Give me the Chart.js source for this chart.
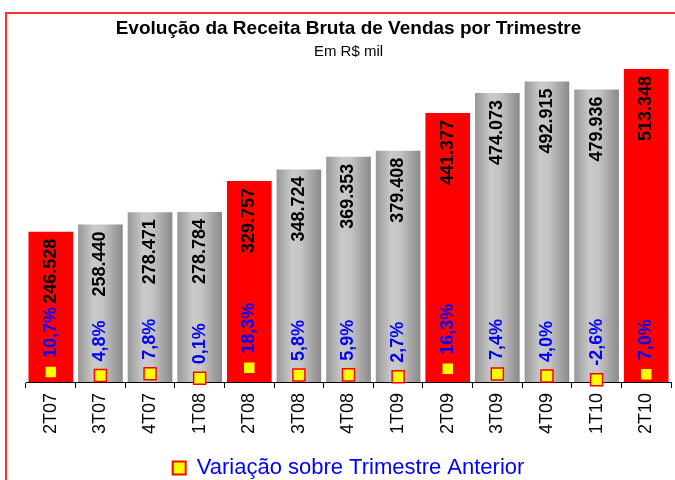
<!DOCTYPE html>
<html>
<head>
<meta charset="utf-8">
<title>Receita Bruta de Vendas</title>
<script src="https://cdn.jsdelivr.net/npm/chart.js@4"></script>
<style>
  html, body { margin: 0; padding: 0; background: #fff; overflow: hidden; }
  #frame {
    position: absolute; left: 5px; top: 12px;
    width: 720px; height: 520px;
    border-left: 2px solid #ff3030; border-top: 2px solid #ff3030;
  }
  #chart { position: absolute; left: 0; top: 0; }
</style>
</head>
<body>
<div id="frame"></div>
<canvas id="chart" width="675" height="480"></canvas>
<script>
// ===============================
// Receita bruta por trimestre
// ===============================

const trimestres = ['2T07', '3T07', '4T07', '1T08', '2T08', '3T08', '4T08',
                    '1T09', '2T09', '3T09', '4T09', '1T10', '2T10'];
const receita = [246528, 258440, 278471, 278784, 329757, 348724, 369353,
                 379408, 441377, 474073, 492915, 479936, 513348];
const variacao = [10.7, 4.8, 7.8, 0.1, 18.3, 5.8, 5.9, 2.7, 16.3, 7.4, 4.0, -2.6, 7.0];

const FONT = "'Liberation Sans', Arial, sans-serif";

// number helpers (pt-BR style)
function fmtMil(v) {
    return String(v).replace(/\B(?=(\d{3})+(?!\d))/g, '.');
}
function fmtPct(v) {
    return v.toFixed(1).replace('.', ',') + '%';
}

// gray bars get a cylinder-like gradient, 2nd quarters are red
function barColor(c) {
    if (trimestres[c.dataIndex].startsWith('2T')) return '#ff0000';
    const chart = c.chart;
    const x = chart.scales && chart.scales.x;
    if (!x || !chart.chartArea) return '#b4b4b4';
    const center = x.getPixelForValue(c.dataIndex);
    const half = (x.width / trimestres.length) * 0.9 / 2;
    const g = chart.ctx.createLinearGradient(center - half, 0, center + half, 0);
    g.addColorStop(0, '#989898');
    g.addColorStop(0.35, '#cacaca');
    g.addColorStop(0.55, '#c4c4c4');
    g.addColorStop(1, '#8a8a8a');
    return g;
}

// rotated value labels
const rotatedLabels = {
    id: 'rotatedLabels',
    afterDatasetsDraw(chart) {
        const ctx = chart.ctx;
        ctx.save();
        ctx.font = 'bold 18px ' + FONT;
        ctx.textBaseline = 'middle';

        chart.getDatasetMeta(1).data.forEach((bar, i) => {
            ctx.save();
            ctx.translate(bar.x, bar.y + 7);
            ctx.rotate(-Math.PI / 2);
            ctx.textAlign = 'right';
            ctx.fillStyle = '#000000';
            ctx.fillText(fmtMil(receita[i]), 0, 0);
            ctx.restore();
        });

        chart.getDatasetMeta(0).data.forEach((pt, i) => {
            ctx.save();
            ctx.translate(pt.x, pt.y - 14);
            ctx.rotate(-Math.PI / 2);
            ctx.textAlign = 'left';
            ctx.fillStyle = '#0000ff';
            ctx.fillText(fmtPct(variacao[i]), 0, 0);
            ctx.restore();
        });
        ctx.restore();
    }
};

const ctx = document.getElementById('chart').getContext('2d');
new Chart(ctx, {
    data: {
        labels: trimestres,
        datasets: [{
            type: 'line',
            label: 'Variação sobre Trimestre Anterior',
            data: variacao,
            yAxisID: 'y1',
            showLine: false,
            pointStyle: 'rect',
            pointRadius: 8.5,
            pointBorderWidth: 1.5,
            backgroundColor: '#ffff00',
            borderColor: '#ff0000',
            borderWidth: 2,
            clip: false,
            order: 0
        }, {
            type: 'bar',
            label: 'Receita Bruta',
            data: receita,
            yAxisID: 'y',
            backgroundColor: barColor,
            borderWidth: 0,
            barPercentage: 0.9,
            categoryPercentage: 1,
            order: 1
        }]
    },
    options: {
        responsive: false,
        animation: false,
        devicePixelRatio: 1,
        layout: {
            autoPadding: false,
            padding: { left: 26, right: 4, top: 0, bottom: -9 }
        },
        plugins: {
            title: {
                display: true,
                text: 'Evolução da Receita Bruta de Vendas por Trimestre',
                color: '#000000',
                font: { family: FONT, size: 19, weight: 'bold' },
                padding: { top: 17, bottom: 3.5 }
            },
            subtitle: {
                display: true,
                text: 'Em R$ mil',
                color: '#000000',
                font: { family: FONT, size: 15 },
                padding: { top: 0, bottom: 0 }
            },
            legend: {
                position: 'bottom',
                labels: {
                    filter: item => item.datasetIndex === 0,
                    boxWidth: 13,
                    boxHeight: 13,
                    color: '#0000ff',
                    font: { family: FONT, size: 22 },
                    padding: 10
                }
            },
            tooltip: { enabled: false }
        },
        scales: {
            x: {
                afterFit(scale) {
                    scale.height = 65;
                    scale.paddingLeft = 0;
                    scale.paddingRight = 0;
                },
                grid: {
                    display: true,
                    drawOnChartArea: false,
                    drawTicks: true,
                    tickLength: 6,
                    color: '#000000'
                },
                border: { display: true, color: '#000000', width: 1 },
                ticks: {
                    color: '#000000',
                    font: { family: FONT, size: 18 },
                    maxRotation: 90,
                    minRotation: 90,
                    padding: 5
                }
            },
            y: {
                display: false,
                min: 0,
                max: 526000
            },
            y1: {
                display: false,
                min: -6.4,
                max: 547
            }
        }
    },
    plugins: [rotatedLabels]
});
</script>
</body>
</html>
